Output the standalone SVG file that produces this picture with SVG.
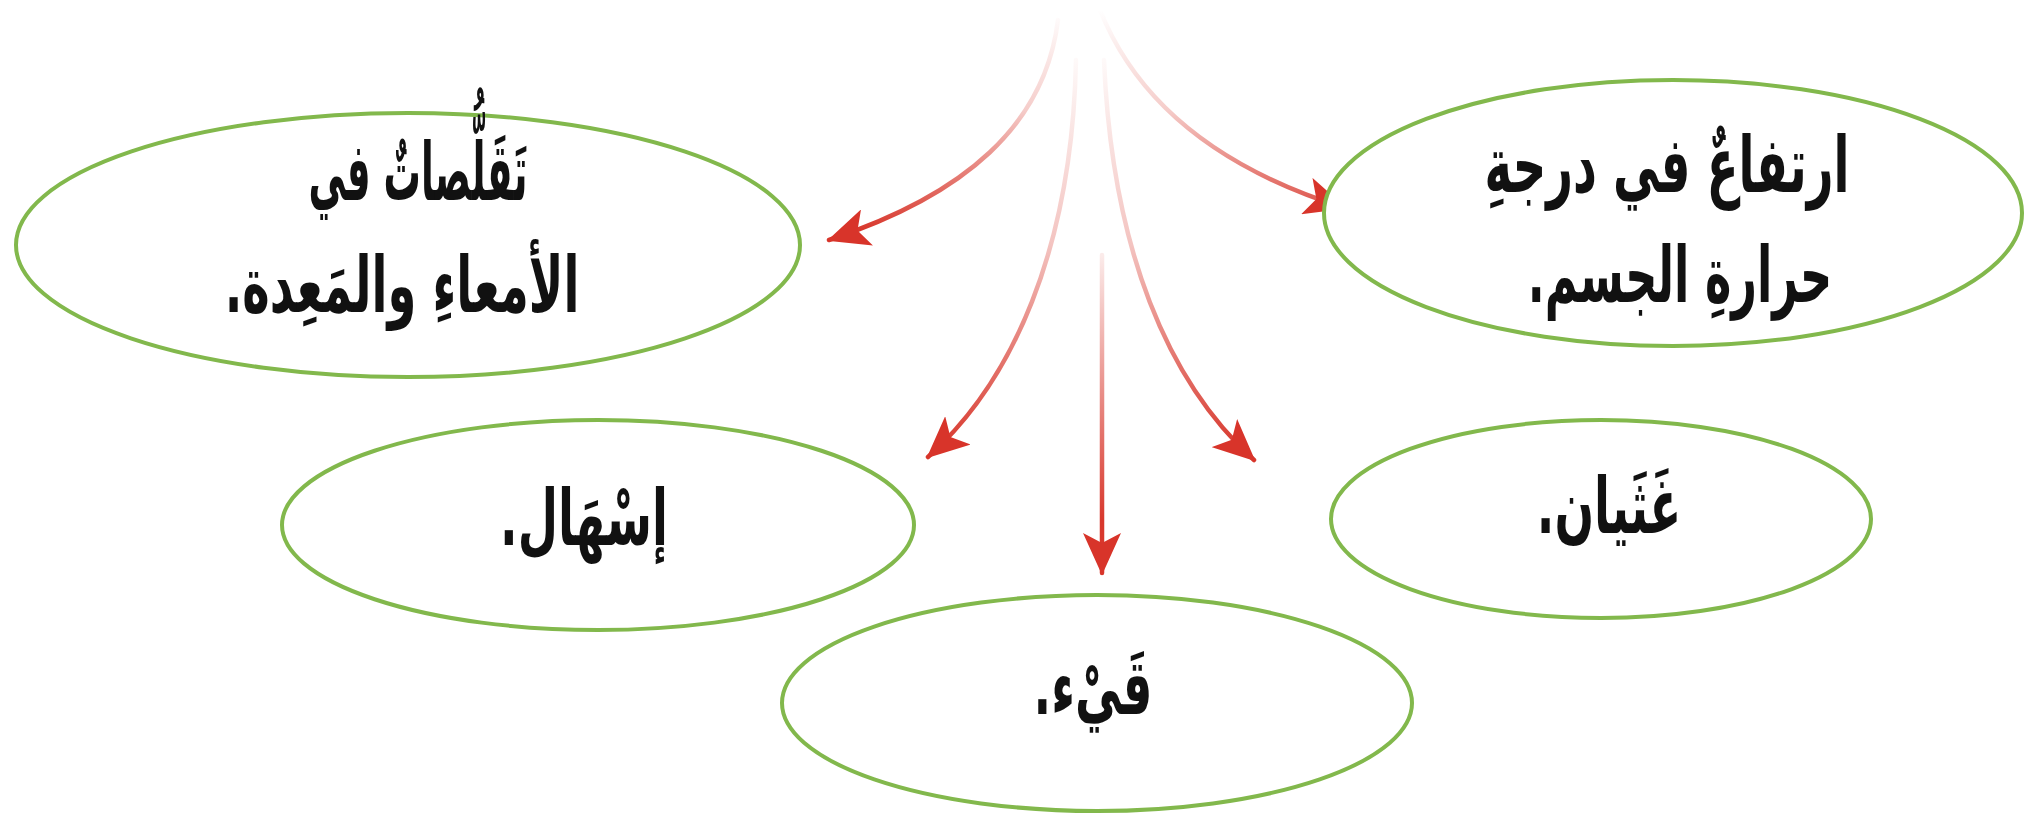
<svg xmlns="http://www.w3.org/2000/svg" width="2026" height="814" viewBox="0 0 2026 814">
<style>
.node ellipse{fill:#ffffff;stroke:#82b84c;stroke-width:4}
.node text{font-family:"DejaVu Sans",sans-serif;font-weight:bold;font-size:62px;fill:#111111;text-anchor:middle;direction:rtl}
.conn path{fill:none;stroke-width:4.5;stroke-linecap:round}
</style>
<defs>
<linearGradient id="fadeA" gradientUnits="userSpaceOnUse" x1="0" y1="10" x2="0" y2="230">
<stop offset="0" stop-color="#d8382d" stop-opacity="0"/>
<stop offset="0.45" stop-color="#d8382d" stop-opacity="0.25"/>
<stop offset="1" stop-color="#d8382d" stop-opacity="1"/>
</linearGradient>
<linearGradient id="fadeB" gradientUnits="userSpaceOnUse" x1="0" y1="40" x2="0" y2="450">
<stop offset="0" stop-color="#d8382d" stop-opacity="0"/>
<stop offset="0.5" stop-color="#d8382d" stop-opacity="0.3"/>
<stop offset="1" stop-color="#d8382d" stop-opacity="1"/>
</linearGradient>
<linearGradient id="fadeC" gradientUnits="userSpaceOnUse" x1="0" y1="255" x2="0" y2="520">
<stop offset="0" stop-color="#d8382d" stop-opacity="0.1"/>
<stop offset="1" stop-color="#d8382d" stop-opacity="1"/>
</linearGradient>
<marker id="head" markerUnits="userSpaceOnUse" markerWidth="42" markerHeight="38" viewBox="0 0 42 38" refX="40" refY="19" orient="auto">
<path d="M0,0 L42,19 L0,38 L10,19 Z" fill="#d8342a"/>
</marker>
</defs>
<g id="connectors" class="conn">
<path d="M1058,20 C1045,125 965,195 829,240" stroke="url(#fadeA)" marker-end="url(#head)"/>
<path d="M1100,10 C1140,110 1230,172 1345,208" stroke="url(#fadeA)" marker-end="url(#head)"/>
<path d="M1076,60 C1072,250 1012,382 928,457" stroke="url(#fadeB)" marker-end="url(#head)"/>
<path d="M1104,60 C1112,250 1168,382 1254,460" stroke="url(#fadeB)" marker-end="url(#head)"/>
<path d="M1102,255 L1102,573" stroke="url(#fadeC)" marker-end="url(#head)"/>
</g>
<g id="node-contractions" class="node">
<ellipse cx="408" cy="245" rx="392" ry="132"/>
<text transform="translate(418,200) scale(0.6,1.3)">تَقَلُّصاتٌ في</text>
<text transform="translate(402,312) scale(0.75,1.25)">الأمعاءِ والمَعِدة.</text>
</g>
<g id="node-fever" class="node">
<ellipse cx="1673" cy="213" rx="349" ry="133"/>
<text transform="translate(1667,192) scale(0.75,1.25)">ارتفاعٌ في درجةِ</text>
<text transform="translate(1680,302) scale(0.72,1.25)">حرارةِ الجسم.</text>
</g>
<g id="node-diarrhea" class="node">
<ellipse cx="598" cy="525" rx="316" ry="105"/>
<text transform="translate(584,545) scale(0.75,1.25)">إسْهَال.</text>
</g>
<g id="node-nausea" class="node">
<ellipse cx="1601" cy="519" rx="270" ry="99"/>
<text transform="translate(1609,533) scale(0.75,1.25)">غَثَيان.</text>
</g>
<g id="node-vomit" class="node">
<ellipse cx="1097" cy="703" rx="315" ry="108"/>
<text transform="translate(1093,714) scale(0.75,1.25)">قَيْء.</text>
</g>
</svg>
